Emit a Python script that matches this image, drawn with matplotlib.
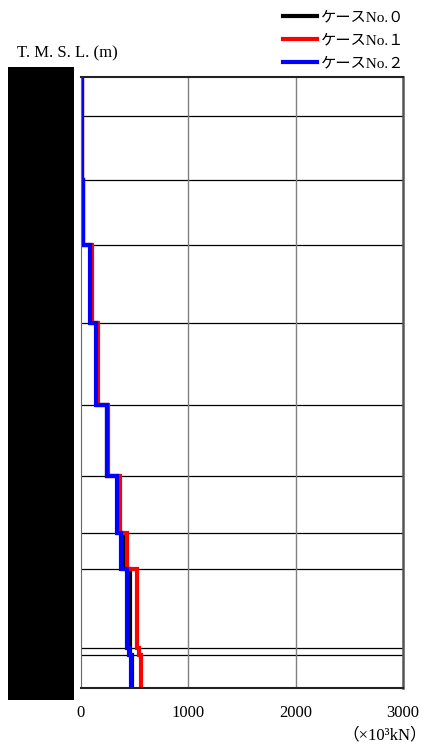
import matplotlib.pyplot as plt
from matplotlib.patches import Rectangle

plt.rcParams['font.family'] = ['Liberation Serif', 'Noto Sans CJK JP']

# levels (T.M.S.L., m) from top to bottom
levels = [49.7, 45.7, 39.0, 32.3, 24.2, 15.7, 8.3, 2.4, -1.4, -9.6, -10.3, -13.7]

# shear force per segment (x10^3 kN), top segment first
case0 = [5, 10, 15, 93, 150, 245, 345, 394, 452, 458, 472]
case1 = [5, 10, 15, 103, 161, 254, 359, 429, 522, 543, 559]
case2 = [5, 9, 14, 84, 140, 238, 333, 377, 425, 450, 466]

labels = ['ケースNo.０', 'ケースNo.１', 'ケースNo.２']
colors = ['black', 'red', 'blue']
xticks = [0, 1000, 2000, 3000]

fig = plt.figure(figsize=(4.31, 7.49), dpi=100)
ax = fig.add_axes([81/431, 61/749, 322/431, 611/749])

edges = levels[::-1]
for vals, c, lab in zip([case0, case1, case2], colors, labels):
    ax.stairs(vals[::-1], edges, orientation='horizontal', baseline=None,
              color=c, lw=3, label=lab)

for lv in levels[1:-1]:
    ax.axhline(lv, color='black', lw=0.9, zorder=0)
for x in xticks[1:-1]:
    ax.axvline(x, color='#808080', lw=1, zorder=0)

ax.set_xlim(0, 3000)
ax.set_ylim(levels[-1], levels[0])
ax.set_xticks(xticks)
ax.set_xticklabels([str(x) for x in xticks], fontsize=12)
ax.tick_params(axis='x', length=0, pad=12)
ax.set_yticks([])
for s in ['top', 'bottom']:
    ax.spines[s].set_color('#222222')
    ax.spines[s].set_linewidth(1.5)
ax.spines['left'].set_color('#666666')
ax.spines['right'].set_color('#555555')
ax.spines['right'].set_linewidth(1.8)

# black box over the elevation labels
fig.patches.append(Rectangle((8/431, 49/749), 66/431, 633/749, transform=fig.transFigure,
                             facecolor='black', edgecolor='none'))

fig.text(17/431, 1 - 53/749, 'T. M. S. L. (m)', fontsize=12, va='center', ha='left')
fig.text(427/431, 1 - 735/749, '（×10³kN）', fontsize=12, va='center', ha='right')

fig.legend(loc='upper left', bbox_to_anchor=(283/431, 1 - 11/749), frameon=False,
           fontsize=11, borderpad=0, handlelength=2.2, handletextpad=0.3,
           labelspacing=0.6, borderaxespad=0)

fig.savefig('out.png', dpi=100)
